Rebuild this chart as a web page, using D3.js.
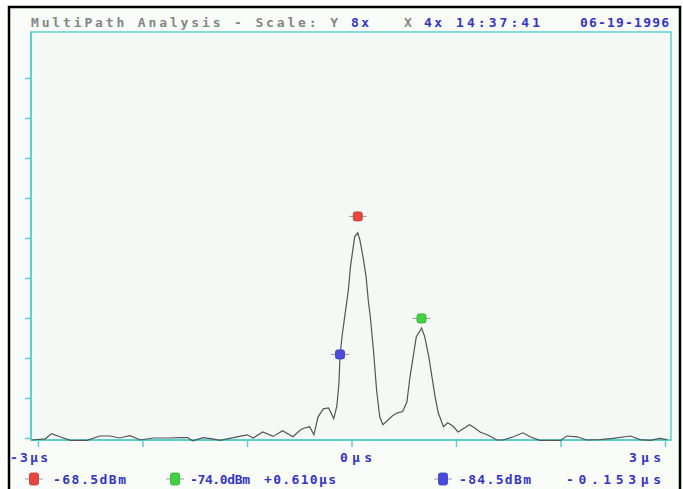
<!DOCTYPE html>
<html>
<head>
<meta charset="utf-8">
<style>
  body { margin: 0; background: #ffffff; }
  svg text { font-family: "DejaVu Sans Mono", "Liberation Mono", monospace; font-weight: bold; }
</style>
</head>
<body>
<div id="chart"></div>
<script src="https://d3js.org/d3.v7.min.js"></script>
<script>
// trace: time in µs, amplitude in vertical divisions
var traceTime = [-3.06, -2.93, -2.87, -2.79, -2.69, -2.53, -2.41, -2.31, -2.22, -2.12, -2.02, -1.90, -1.74, -1.64, -1.57, -1.52,
  -1.42, -1.33, -1.26, -1.13, -1.00, -0.94, -0.85, -0.75, -0.66, -0.56, -0.49, -0.45, -0.40, -0.36, -0.32, -0.27, -0.22,
  -0.20, -0.17, -0.14, -0.12, -0.11, -0.09, -0.06, -0.03, -0.01, 0.03, 0.06, 0.08, 0.11, 0.14, 0.16, 0.18, 0.21, 0.24,
  0.27, 0.30, 0.35, 0.39, 0.44, 0.49, 0.53, 0.56, 0.59, 0.62, 0.66, 0.67, 0.70, 0.74, 0.77, 0.80, 0.83, 0.88, 0.92, 0.97,
  1.02, 1.08, 1.13, 1.18, 1.23, 1.30, 1.39, 1.45, 1.55, 1.64, 1.71, 1.80, 2.00, 2.06, 2.16, 2.25, 2.38, 2.50, 2.67, 2.76,
  2.86, 2.95, 3.02];
var traceAmp = [0, 0.03, 0.16, 0.08, -0.01, -0.01, 0.10, 0.10, 0.05, 0.11, 0, 0.05, 0.05, 0.06, 0.06, -0.02,
  0.06, 0.03, -0.01, 0.06, 0.13, 0.05, 0.20, 0.09, 0.23, 0.08, 0.25, 0.30, 0.33, 0.13, 0.58, 0.78, 0.80,
  0.70, 0.53, 0.85, 1.43, 2.10, 2.60, 3.18, 3.75, 4.33, 5.08, 5.18, 5.00, 4.58, 4.08, 3.50, 3.08, 2.25, 1.25,
  0.58, 0.38, 0.50, 0.60, 0.68, 0.71, 0.95, 1.58, 2.08, 2.58, 2.75, 2.80, 2.59, 2.08, 1.58, 1.08, 0.68, 0.33, 0.43, 0.35,
  0.20, 0.30, 0.38, 0.30, 0.20, 0.13, 0, 0, 0.08, 0.18, 0.08, -0.01, -0.01, 0.10, 0.08, 0, 0.01, 0.04, 0.10, 0.01,
  -0.01, 0.04, 0.01];

var markerColors = ["#e8453c", "#3fd43f", "#4a4ae0"];
var markerTime = [0.06, 0.67, -0.11];
var markerAmp = [5.59, 3.04, 2.14];

var xTicks = [-3, -2, -1, 0, 1, 2, 3];
var yTicks = [0, 1, 2, 3, 4, 5, 6, 7, 8, 9];
var xLabels = ["-3µs", "0µs", "3µs"];
var readouts = ["-68.5dBm", "-74.0dBm", "+0.610µs", "-84.5dBm", "-0.153µs"];

var width = 683, height = 489;
var plotLeft = 31, plotRight = 671, plotTop = 32, plotBottom = 440;
var blue = "#3535c8", grey = "#858585", cyan = "#5ccfcf";

var svg = d3.select("#chart").append("svg")
  .attr("width", width)
  .attr("height", height);

// background + frame
svg.append("rect").attr("x", 0).attr("y", 0).attr("width", width).attr("height", height).attr("fill", "#ffffff");
svg.append("rect").attr("x", 9).attr("y", 7).attr("width", 671).attr("height", 482).attr("fill", "#fafcfa");
svg.append("path")
  .attr("d", "M9,489 V7 H680 V489")
  .attr("fill", "none")
  .attr("stroke", "#000")
  .attr("stroke-width", 2.5);

var x = d3.scaleLinear().domain([-3, 3]).range([38, 665]);
var y = d3.scaleLinear().domain([0, 10]).range([plotBottom, 40]);

svg.append("rect")
  .attr("x", plotLeft).attr("y", plotTop)
  .attr("width", plotRight - plotLeft).attr("height", plotBottom - plotTop)
  .attr("fill", "#f4f9f5")
  .attr("stroke", cyan)
  .attr("stroke-width", 1.5);

// axes
var yAxis = svg.append("g")
  .attr("transform", "translate(" + plotLeft + ",-2)")
  .call(d3.axisLeft(y).tickValues(yTicks).tickSize(6).tickFormat(""));
var xAxis = svg.append("g")
  .attr("transform", "translate(0," + plotBottom + ")")
  .call(d3.axisBottom(x).tickValues(xTicks).tickSize(7).tickFormat(""));
[yAxis, xAxis].forEach(function(a) {
  a.select(".domain").remove();
  a.selectAll(".tick line").attr("stroke", cyan).attr("stroke-width", 1.5);
});
svg.append("line")
  .attr("x1", plotLeft).attr("x2", plotRight)
  .attr("y1", plotBottom).attr("y2", plotBottom)
  .attr("stroke", cyan).attr("stroke-width", 2);
svg.append("line")
  .attr("x1", plotLeft).attr("x2", plotLeft)
  .attr("y1", plotTop).attr("y2", plotBottom)
  .attr("stroke", cyan).attr("stroke-width", 2);

// trace
var pts = traceTime.map(function(t, i) { return [t, traceAmp[i]]; });
var line = d3.line()
  .x(function(d) { return x(d[0]); })
  .y(function(d) { return y(d[1]); });
svg.append("path")
  .datum(pts)
  .attr("d", line)
  .attr("fill", "none")
  .attr("stroke", "#555")
  .attr("stroke-width", 1.2);

function drawMarker(cx, cy, color, w, h) {
  var g = svg.append("g").attr("transform", "translate(" + cx + "," + cy + ")");
  g.append("line").attr("x1", -9).attr("x2", 9).attr("y1", 0).attr("y2", 0)
    .attr("stroke", "#999").attr("stroke-width", 1);
  g.append("rect")
    .attr("x", -w / 2).attr("y", -h / 2).attr("width", w).attr("height", h)
    .attr("rx", 2)
    .attr("fill", color)
    .attr("stroke", d3.color(color).darker(0.6))
    .attr("stroke-width", 0.8);
}

markerTime.forEach(function(t, i) {
  drawMarker(x(t), y(markerAmp[i]), markerColors[i], 9, 9);
});

// title line
function label(txt, xPos, yPos, color, len, anchor) {
  var t = svg.append("text")
    .attr("x", xPos).attr("y", yPos)
    .attr("font-size", "13px")
    .attr("fill", color)
    .attr("text-anchor", anchor || "start")
    .text(txt);
  if (len) t.attr("textLength", len).attr("lengthAdjust", "spacing");
  return t;
}
label("MultiPath Analysis - Scale: Y", 31, 27, grey, 307);
label("8x", 351, 27, blue, 18);
label("X", 404, 27, grey);
label("4x", 424, 27, blue, 18);
label("14:37:41", 456, 27, blue, 84);
label("06-19-1996", 580, 27, blue, 89);

// x labels
label(xLabels[0], 10, 462, blue, 38);
label(xLabels[1], 340, 462, blue, 32);
label(xLabels[2], 629, 462, blue, 32);

// readouts
drawMarker(34, 479, markerColors[0], 9, 12);
label(readouts[0], 53, 484, blue, 73);
drawMarker(175, 479, markerColors[1], 9, 12);
label(readouts[1], 190, 484, blue, 60);
label(readouts[2], 264, 484, blue, 72);
drawMarker(443, 479, markerColors[2], 9, 12);
label(readouts[3], 459, 484, blue, 72);
label(readouts[4], 566, 484, blue, 95);
</script>
</body>
</html>
